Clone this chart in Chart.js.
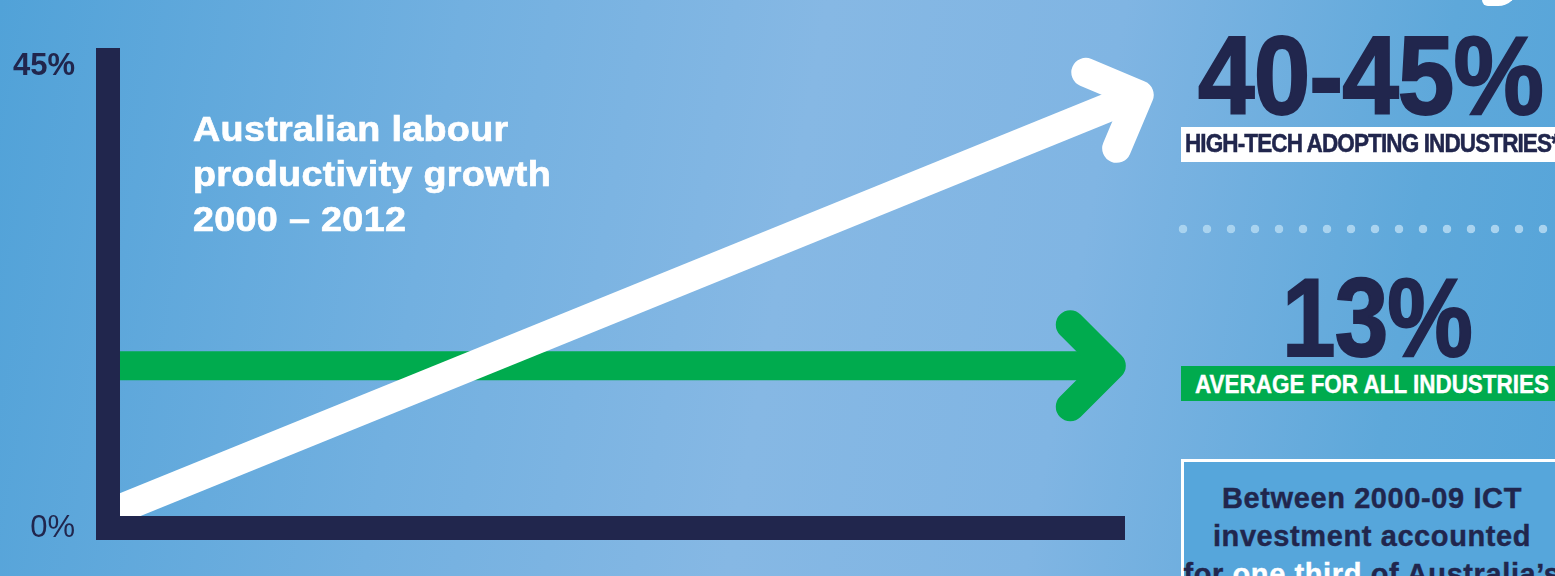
<!DOCTYPE html>
<html lang="en">
<head>
    <meta charset="UTF-8" />
    <title>Australian labour productivity growth 2000 – 2012</title>
    <script src="https://cdn.jsdelivr.net/npm/chart.js"></script>
    <style>
        html, body {
            margin: 0;
            width: 1555px;
            height: 576px;
            overflow: hidden;
        }
        body {
            position: relative;
            font-family: "Liberation Sans", Arial, Helvetica, sans-serif;
            background: linear-gradient(100deg, #51a2d8 0%, #72b0e0 28%, #86b8e4 50%, #80b5e3 68%, #5ea8da 88%, #55a4d9 100%);
        }
        #grafico {
            position: absolute;
            left: 0;
            top: 0;
        }
        .txt {
            position: absolute;
            white-space: nowrap;
            font-weight: bold;
            transform-origin: 0 0;
        }
        .navy { color: #21264d; }
        #titulo {
            left: 193px;
            top: 106px;
            color: #fff;
            font-size: 35px;
            line-height: 45px;
            letter-spacing: 0.3px;
            -webkit-text-stroke: 0.7px #fff;
        }
        .big {
            font-size: 112px;
            line-height: 112px;
            letter-spacing: -1px;
            -webkit-text-stroke: 2px #21264d;
        }
        .faixa {
            position: absolute;
        }
        #dots {
            position: absolute;
            left: 1171px;
            top: 217px;
            width: 384px;
            height: 24px;
            background: radial-gradient(circle, #a9d3ef 4px, rgba(169,211,239,0) 4.6px) 0 0 / 24px 24px repeat-x;
        }
        #caixa {
            position: absolute;
            left: 1181px;
            top: 459px;
            width: 382px;
            height: 140px;
            border: 3px solid #fff;
            background: #56a6db;
            box-sizing: border-box;
        }
        #caixa-texto {
            position: absolute;
            left: 1181px;
            width: 382px;
            top: 479px;
            text-align: center;
            font-weight: bold;
            font-size: 29px;
            line-height: 38px;
            letter-spacing: 0.6px;
            color: #21264d;
            -webkit-text-stroke: 0.4px #21264d;
        }
    </style>
</head>
<body>
<canvas id="grafico" width="1555" height="576"></canvas>

<div class="txt" id="titulo" data-w="358">Australian labour<br>productivity growth<br>2000 – 2012</div>

<div class="faixa" style="left:1482px;top:-22px;width:36px;height:28px;background:#fff;border-radius:0 0 20px 6px;"></div>

<span class="txt navy big" data-w="345" style="left:1198px;top:20px;">40-45%</span>
<div class="faixa" style="left:1181px;top:127px;width:380px;height:35px;background:#fff;"></div>
<span class="txt navy" data-w="374" style="left:1185px;top:131px;font-size:25px;line-height:25px;letter-spacing:-1px;-webkit-text-stroke:0.5px #21264d;">HIGH-TECH ADOPTING INDUSTRIES*</span>

<div id="dots"></div>

<span class="txt navy big" data-w="190" style="left:1282px;top:262px;">13%</span>
<div class="faixa" style="left:1181px;top:366px;width:380px;height:35px;background:#00ab4e;"></div>
<span class="txt" data-w="354" style="left:1195px;top:371px;color:#fff;font-size:26px;line-height:26px;-webkit-text-stroke:0.4px #fff;">AVERAGE FOR ALL INDUSTRIES</span>

<div id="caixa"></div>
<div id="caixa-texto">Between 2000-09 ICT<br>investment accounted<br>for <span style="color:#fff;-webkit-text-stroke-color:#fff">one third</span> of Australia’s</div>

<script>
    // percentuais no eixo y
    const yTicks = [0, 45];
    const yMax = 45.6;
    const anos = [2000, 2012];

    // setas: [ano, crescimento %]
    const altaTecnologia = [[2000, 1.4], [2012.18, 42.2]];
    const mediaGeral = [[2000, 15.8], [2011.85, 15.8]];

    const navy = '#21264d';
    const verde = '#00ab4e';

    function pontos(lista) {
        return lista.map(p => ({ x: p[0], y: p[1] }));
    }

    // ponta da seta desenhada na direção do último segmento
    const pontaSeta = {
        id: 'pontaSeta',
        afterDatasetsDraw(chart) {
            const ctx = chart.ctx;
            [1, 0].forEach(i => {
                const pts = chart.getDatasetMeta(i).data;
                const a = pts[pts.length - 2], b = pts[pts.length - 1];
                const ang = Math.atan2(a.y - b.y, a.x - b.x);
                const len = 58;
                ctx.save();
                ctx.strokeStyle = chart.data.datasets[i].borderColor;
                ctx.lineWidth = 29;
                ctx.lineCap = 'round';
                ctx.lineJoin = 'round';
                ctx.beginPath();
                ctx.moveTo(b.x + len * Math.cos(ang + Math.PI / 4), b.y + len * Math.sin(ang + Math.PI / 4));
                ctx.lineTo(b.x, b.y);
                ctx.lineTo(b.x + len * Math.cos(ang - Math.PI / 4), b.y + len * Math.sin(ang - Math.PI / 4));
                ctx.stroke();
                ctx.restore();
            });
        }
    };

    new Chart(document.getElementById('grafico'), {
        type: 'line',
        data: {
            datasets: [{
                label: 'High-tech adopting industries',
                data: pontos(altaTecnologia),
                borderColor: '#ffffff',
                borderWidth: 29,
                borderCapStyle: 'butt',
                pointRadius: 0,
                clip: false
            }, {
                label: 'Average for all industries',
                data: pontos(mediaGeral),
                borderColor: verde,
                borderWidth: 29,
                borderCapStyle: 'butt',
                pointRadius: 0,
                clip: false
            }]
        },
        options: {
            responsive: false,
            animation: false,
            layout: {
                padding: { top: 60, right: 431, left: 0, bottom: 0 }
            },
            plugins: {
                legend: { display: false },
                tooltip: { enabled: false }
            },
            scales: {
                x: {
                    type: 'linear',
                    min: anos[0],
                    max: anos[1],
                    grid: { color: 'rgba(0,0,0,0)', drawTicks: false },
                    border: { color: navy, width: 24, z: 1 },
                    ticks: { display: false },
                    afterFit: s => { s.height = 48; }
                },
                y: {
                    min: 0,
                    max: yMax,
                    grid: { color: 'rgba(0,0,0,0)', drawTicks: false },
                    border: { color: navy, width: 24, z: 1 },
                    afterBuildTicks: s => { s.ticks = yTicks.map(v => ({ value: v })); },
                    afterFit: s => {
                        s.width = 108;
                        s.paddingTop = 0;
                        s.paddingBottom = 0;
                    },
                    ticks: {
                        padding: 33,
                        color: navy,
                        callback: v => v + '%',
                        font: c => ({
                            family: '"Liberation Sans", Arial, sans-serif',
                            size: 31,
                            weight: c.tick && c.tick.value === 45 ? 'bold' : 'normal'
                        })
                    }
                }
            }
        },
        plugins: [pontaSeta]
    });

    // ajusta largura dos textos condensados
    document.querySelectorAll('[data-w]').forEach(el => {
        const w = el.getBoundingClientRect().width;
        el.style.transform = 'scaleX(' + (Number(el.dataset.w) / w) + ')';
    });
</script>
</body>
</html>
